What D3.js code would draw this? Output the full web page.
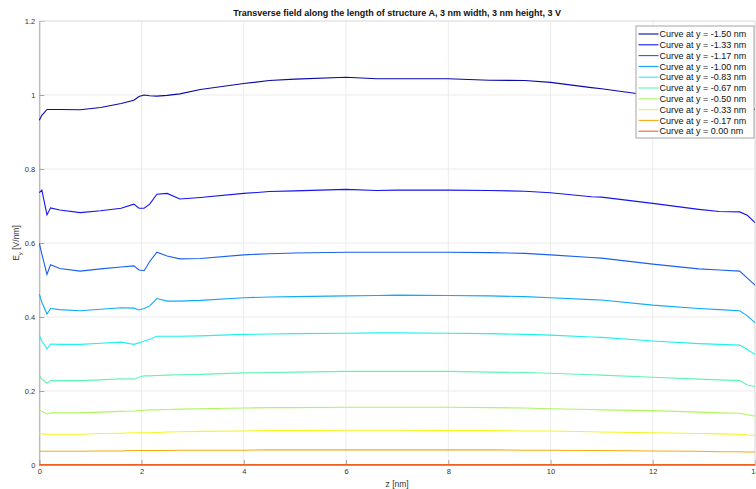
<!DOCTYPE html>
<html lang="en">
<head>
<meta charset="utf-8">
<title>Transverse field</title>
<script src="https://cdn.jsdelivr.net/npm/d3@7"></script>
<style>
  body { margin: 0; background: #fff; }
  text { font-family: "Liberation Sans", Arial, Helvetica, sans-serif; }
</style>
</head>
<body>
<div id="chart"></div>
<script>
// z positions [nm] shared by all curves
var zValues = [0, 0.05, 0.15, 0.22, 0.4, 0.8, 1.2, 1.6, 1.85, 1.95, 2.05, 2.16, 2.3, 2.5, 2.75, 3.15, 4, 4.5, 5, 6,
               6.6, 7, 8, 8.8, 9.5, 10, 10.8, 11, 12, 12.9, 13.3, 13.7, 13.85, 14];

var curveLabels = ["-1.50", "-1.33", "-1.17", "-1.00", "-0.83", "-0.67", "-0.50", "-0.33", "-0.17", "0.00"];

var ey150 = [0.932, 0.945, 0.961, 0.961, 0.961, 0.960, 0.966, 0.977, 0.986, 0.996, 1.000, 0.998, 0.997, 0.999, 1.003, 1.015, 1.031, 1.039, 1.043, 1.048,
             1.044, 1.044, 1.044, 1.040, 1.039, 1.034, 1.020, 1.017, 0.998, 0.985, 0.980, 0.978, 0.970, 0.961];
var ey133 = [0.736, 0.743, 0.676, 0.695, 0.689, 0.682, 0.687, 0.694, 0.705, 0.694, 0.694, 0.705, 0.732, 0.734, 0.719, 0.723, 0.734, 0.739, 0.741, 0.745,
             0.742, 0.743, 0.743, 0.742, 0.740, 0.736, 0.725, 0.724, 0.707, 0.691, 0.685, 0.684, 0.675, 0.655];
var ey117 = [0.599, 0.570, 0.515, 0.541, 0.531, 0.524, 0.530, 0.535, 0.538, 0.527, 0.525, 0.550, 0.575, 0.565, 0.557, 0.558, 0.568, 0.571, 0.573, 0.575,
             0.575, 0.575, 0.575, 0.574, 0.572, 0.568, 0.561, 0.559, 0.543, 0.530, 0.527, 0.524, 0.505, 0.486];
var ey100 = [0.462, 0.440, 0.408, 0.423, 0.420, 0.417, 0.421, 0.425, 0.424, 0.419, 0.423, 0.430, 0.450, 0.443, 0.443, 0.445, 0.452, 0.454, 0.455, 0.457,
             0.458, 0.459, 0.458, 0.457, 0.455, 0.452, 0.447, 0.446, 0.432, 0.423, 0.420, 0.417, 0.403, 0.385];
var ey083 = [0.350, 0.335, 0.314, 0.327, 0.326, 0.326, 0.329, 0.332, 0.326, 0.330, 0.335, 0.340, 0.348, 0.348, 0.348, 0.349, 0.353, 0.354, 0.355, 0.356,
             0.357, 0.357, 0.356, 0.355, 0.353, 0.351, 0.346, 0.345, 0.335, 0.328, 0.326, 0.324, 0.312, 0.299];
var ey067 = [0.243, 0.232, 0.221, 0.228, 0.228, 0.228, 0.230, 0.233, 0.232, 0.237, 0.241, 0.241, 0.242, 0.243, 0.244, 0.245, 0.249, 0.250, 0.251, 0.253,
             0.253, 0.253, 0.253, 0.251, 0.250, 0.248, 0.244, 0.243, 0.237, 0.232, 0.230, 0.228, 0.216, 0.212];
var ey050 = [0.149, 0.145, 0.138, 0.141, 0.141, 0.141, 0.143, 0.145, 0.146, 0.147, 0.148, 0.149, 0.149, 0.150, 0.151, 0.152, 0.154, 0.155, 0.155, 0.156,
             0.156, 0.156, 0.156, 0.155, 0.154, 0.152, 0.150, 0.149, 0.147, 0.143, 0.141, 0.140, 0.136, 0.132];
var ey033 = [0.086, 0.084, 0.083, 0.083, 0.083, 0.083, 0.085, 0.086, 0.087, 0.087, 0.087, 0.087, 0.088, 0.089, 0.090, 0.091, 0.092, 0.093, 0.093, 0.094,
             0.094, 0.094, 0.093, 0.093, 0.092, 0.092, 0.090, 0.089, 0.087, 0.085, 0.084, 0.083, 0.081, 0.080];
var ey017 = [0.038, 0.037, 0.037, 0.037, 0.037, 0.037, 0.038, 0.038, 0.039, 0.039, 0.039, 0.039, 0.039, 0.039, 0.040, 0.040, 0.040, 0.041, 0.041, 0.041,
             0.041, 0.041, 0.041, 0.041, 0.040, 0.040, 0.039, 0.039, 0.038, 0.037, 0.036, 0.036, 0.035, 0.035];
var ey000 = [0.001, 0.001, 0.001, 0.001, 0.001, 0.001, 0.001, 0.001, 0.001, 0.001, 0.001, 0.001, 0.001, 0.001, 0.001, 0.001, 0.001, 0.001, 0.001, 0.001,
             0.001, 0.001, 0.001, 0.001, 0.001, 0.001, 0.001, 0.001, 0.001, 0.001, 0.001, 0.001, 0.001, 0.001];

var series = [ey150, ey133, ey117, ey100, ey083, ey067, ey050, ey033, ey017, ey000];

var xTicks = [0, 2, 4, 6, 8, 10, 12, 14];
var yTicks = [0, 0.2, 0.4, 0.6, 0.8, 1, 1.2];

// jet-like colours, one per curve
var colors = ["#0a0aa6", "#1414f0", "#1a5ff0", "#10aaf5", "#20f0f0", "#60f5b0", "#b0f560", "#f5f520", "#f5aa10", "#f06020"];

var W = 756, H = 489;
var margin = {left: 39.3, right: 1, top: 21, bottom: 24};

var svg = d3.select("#chart").append("svg")
    .attr("width", W)
    .attr("height", H);

var x = d3.scaleLinear().domain([0, 14]).range([margin.left, W - margin.right]);
var y = d3.scaleLinear().domain([0, 1.2]).range([H - margin.bottom, margin.top]);

// grid
svg.append("g").selectAll("line.gx").data(xTicks).enter().append("line")
    .attr("x1", function(d) { return x(d); }).attr("x2", function(d) { return x(d); })
    .attr("y1", y(0)).attr("y2", y(1.2))
    .style("stroke", "#ebebeb").style("stroke-width", 1);
svg.append("g").selectAll("line.gy").data(yTicks).enter().append("line")
    .attr("x1", x(0)).attr("x2", x(14))
    .attr("y1", function(d) { return y(d); }).attr("y2", function(d) { return y(d); })
    .style("stroke", "#ebebeb").style("stroke-width", 1);

// axes (ticks inward, like matlab)
var xAxis = svg.append("g")
    .attr("transform", "translate(0," + y(0) + ")")
    .call(d3.axisBottom(x).tickValues(xTicks).tickSize(-5).tickPadding(4).tickFormat(d3.format("d")));
var yAxis = svg.append("g")
    .attr("transform", "translate(" + x(0) + ",0)")
    .call(d3.axisLeft(y).tickValues(yTicks).tickSize(-5).tickPadding(4).tickFormat(function(d) { return d3.format("")(+d.toFixed(1)); }));

[xAxis, yAxis].forEach(function(a) {
    a.select(".domain").style("stroke", "#a6a6a6");
    a.selectAll(".tick line").style("stroke", "#a6a6a6");
    a.selectAll(".tick text").style("fill", "#333").style("font-size", "7.5px");
});

// top and right edges of the box
svg.append("line").attr("x1", x(0)).attr("x2", x(14)).attr("y1", y(1.2)).attr("y2", y(1.2))
    .style("stroke", "#e0e0e0");
svg.append("line").attr("x1", x(14)).attr("x2", x(14)).attr("y1", y(1.2)).attr("y2", y(0))
    .style("stroke", "#e0e0e0");

// curves
var line = d3.line()
    .x(function(d, i) { return x(zValues[i]); })
    .y(function(d) { return y(d); });

svg.append("g").selectAll("path").data(series).enter().append("path")
    .attr("d", line)
    .style("fill", "none")
    .style("stroke", function(d, i) { return colors[i]; })
    .style("stroke-width", 1.1);

// title and labels
svg.append("text")
    .attr("x", (x(0) + x(14)) / 2).attr("y", 16)
    .attr("text-anchor", "middle")
    .style("font-size", "9px").style("font-weight", "bold").style("fill", "#111")
    .text("Transverse field along the length of structure A, 3 nm width, 3 nm height, 3 V");

svg.append("text")
    .attr("x", (x(0) + x(14)) / 2).attr("y", 487)
    .attr("text-anchor", "middle")
    .style("font-size", "8.5px").style("fill", "#333")
    .text("z [nm]");

var yl = svg.append("text")
    .attr("transform", "translate(19," + (y(0) + y(1.2)) / 2 + ") rotate(-90)")
    .attr("text-anchor", "middle")
    .style("font-size", "8.5px").style("fill", "#333");
yl.append("tspan").text("E");
yl.append("tspan").attr("dy", 2.5).style("font-size", "6px").text("y");
yl.append("tspan").attr("dy", -2.5).text(" [V/nm]");

// legend
var lg = svg.append("g").attr("transform", "translate(636,26)");
lg.append("rect")
    .attr("width", 118).attr("height", 112)
    .style("fill", "#fff").style("stroke", "#a6a6a6").style("stroke-width", 1);
var rows = lg.selectAll("g.row").data(curveLabels).enter().append("g")
    .attr("transform", function(d, i) { return "translate(0," + (8 + i * 10.8) + ")"; });
rows.append("line")
    .attr("x1", 2.5).attr("x2", 22.5)
    .style("stroke", function(d, i) { return colors[i]; })
    .style("stroke-width", 1.1);
rows.append("text")
    .attr("x", 23.5).attr("y", 3.2)
    .style("font-size", "9px").style("fill", "#111")
    .text(function(d) { return "Curve at y = " + d + " nm"; });
</script>
</body>
</html>
